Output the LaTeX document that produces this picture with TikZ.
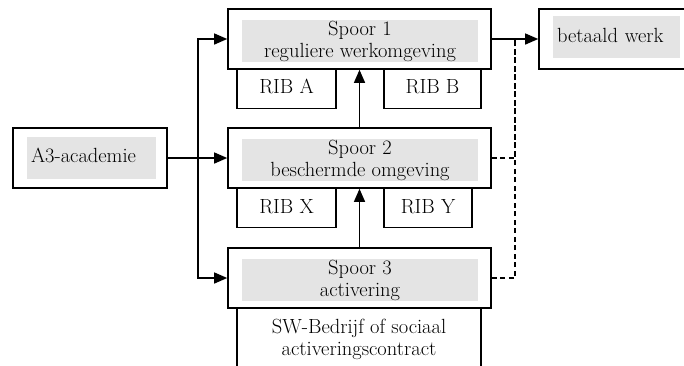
\documentclass[tikz,border=0pt]{standalone}
\usepackage{tikz}
\usetikzlibrary{arrows.meta,positioning,calc}
\definecolor{shadeGray}{RGB}{228,228,228}

\begin{document}
\begin{tikzpicture}[x=1pt,y=-1pt,
        every node/.style={font=\fontsize{20.5}{22}\selectfont, inner sep=0pt, text=black},
        spoorbox/.style={draw, line width=1.6pt, rectangle, minimum width=263pt, minimum height=60pt},
        ribbox/.style={draw, line width=1.4pt, rectangle, minimum height=39.5pt, text height=14pt, text depth=4pt},
        shadebox/.style={fill=shadeGray, rectangle, minimum width=236pt, minimum height=42pt, align=center},
        shadeleft/.style={fill=shadeGray, rectangle, inner xsep=4pt, minimum height=42pt, align=left, text height=14pt, text depth=4pt},
        arr/.style={-{Triangle[length=13pt,width=11pt]}, line width=1.3pt},
        dashline/.style={dash pattern=on 5pt off 3.5pt, line width=1.3pt}]
        \useasboundingbox (0,0) rectangle (684,365);

        % RIB boxes under the tracks
        \node[ribbox, minimum width=99pt] (ribA) at (286.5,88.5) {RIB A};
        \node[ribbox, minimum width=97pt] (ribB) at (432.5,88.5) {RIB B};
        \node[ribbox, minimum width=99pt] (ribX) at (286.5,208) {RIB X};
        \node[ribbox, minimum width=88pt] (ribY) at (428,208) {RIB Y};

        % SW box, open at the bottom
        \node[draw, line width=1.4pt, rectangle, minimum width=244pt, minimum height=72pt] (sw) at (359,344) {};
        \node[align=center] (swtxt) at (359,339) {SW-Bedrijf of sociaal\\activeringscontract};

        % Tracks
        \node[spoorbox] (s1) at (359.5,39) {};
        \node[shadebox] (s1txt) at (360,41) {Spoor 1\\reguliere werkomgeving};
        \node[spoorbox] (s2) at (359.5,158) {};
        \node[shadebox] (s2txt) at (360,160) {Spoor 2\\beschermde omgeving};
        \node[spoorbox] (s3) at (359.5,278) {};
        \node[shadebox] (s3txt) at (360,280) {Spoor 3\\activering};

        % Start and goal
        \node[draw, line width=1.6pt, rectangle, minimum width=154pt, minimum height=60pt] (a3) at (90,158) {};
        \node[shadeleft, text width=121pt] (a3txt) at (91.5,157.5) {A3-academie};
        \node[draw, line width=1.6pt, rectangle, minimum width=151pt, minimum height=60pt] (werk) at (614.5,39) {};
        \node[shadeleft, text width=119pt] (werktxt) at (616.5,37) {betaald werk};

        % Connectors
        \coordinate (fork) at (198,158);
        \coordinate (dtop) at (515,39);
        \draw[line width=2.3pt] (a3) -- (fork);
        \draw[arr] (a3) -- (s2);
        \draw[arr] (fork) |- (s1);
        \draw[arr] (fork) |- (s3);
        \draw[arr] (s3) -- (s2);
        \draw[arr] (s2) -- (s1);
        \draw[arr] (s1) -- (werk);
        \draw[dashline] (s2) -| (dtop);
        \draw[dashline] (s3) -| (dtop);

\end{tikzpicture}
\end{document}
